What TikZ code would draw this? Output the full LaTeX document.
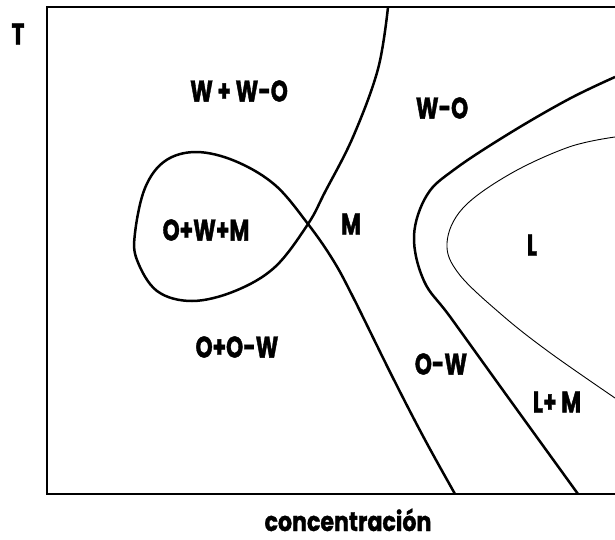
\documentclass[tikz,border=0pt]{standalone}
\usepackage{fontspec}
\setmainfont{Poppins}
\newfontfamily\phasefont{Poppins}[FakeStretch=0.72, FakeBold=1.2]
\newfontfamily\axisfont{Poppins}[FakeStretch=0.82, FakeBold=1.2]
\usepackage{tikz}
\usetikzlibrary{positioning}

\begin{document}
\begin{tikzpicture}[
    x=1pt, y=-1pt,
    phase/.style={font=\phasefont\fontsize{30}{30}\selectfont\bfseries, inner sep=0pt},
    axis/.style={font=\axisfont\fontsize{27}{27}\selectfont\bfseries, inner sep=0pt},
    bound/.style={line width=2.5pt, line join=round},
    liq/.style={line width=0.9pt}
]
    \useasboundingbox (0,0) rectangle (615,540);

    % frame of the diagram
    \draw [line width=1.4pt] (615,7) -- (47,7) -- (47,494) -- (615,494);

    % curve with the loop
    \draw [bound] plot [smooth, tension=0.6] coordinates {
        (388,7) (378,69) (353,137) (325,192) (308,224) (275,267) (235,291)
        (192,301) (157,291) (137,260) (135,233) (145,188) (165,161) (196,152)
        (235,161) (275,185) (308,224) (333,260) (353,297) (392,376) (424,438)
        (455,494)};

    % outer boundary (W-O / O-W)
    \draw [bound] plot [smooth, tension=0.6] coordinates {
        (615,77) (569,99) (510,133) (455,169) (427,195) (414,236) (424,281)
        (451,318) (510,400) (578,494)};

    % liquid boundary
    \draw [liq] plot [smooth, tension=0.6] coordinates {
        (615,137) (569,147) (510,174) (463,208) (447,243) (459,274) (502,315)
        (549,352) (615,398)};

    % labels
    \node (t) [phase] at (18,34) {T};
    \node (conc) [axis, anchor=base] at (348,531) {concentración};
    \node (wwo) [phase] at (239,91) {W + W-O};
    \node (wo) [phase] at (442,108) {W-O};
    \node (owm) [phase] at (206,230) {O+W+M};
    \node (m) [phase] at (351,224) {M};
    \node (l) [phase] at (532,245) {L};
    \node (oow) [phase] at (237,347) {O+O-W};
    \node (ow) [phase] at (441,364) {O-W};
    \node (lm) [phase] at (557,402) {L+ M};
\end{tikzpicture}
\end{document}
